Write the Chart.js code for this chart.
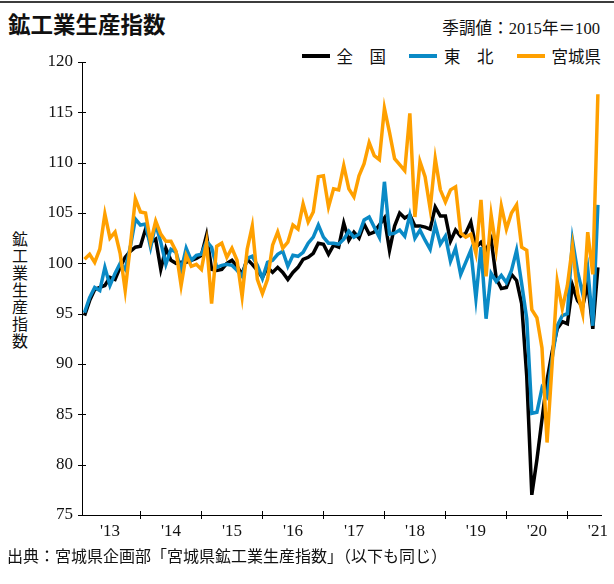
<!DOCTYPE html>
<html lang="ja">
<head>
<meta charset="utf-8">
<script src="https://cdn.jsdelivr.net/npm/chart.js@4.4.1/dist/chart.umd.min.js"></script>
<style>
html,body{margin:0;padding:0;background:#fff;}
#wrap{position:relative;width:614px;height:584px;overflow:hidden;background:#fff;}
#topline{position:absolute;left:0;top:1px;width:614px;height:2px;background:#3c3c3c;}
#title{position:absolute;left:8px;top:8px;font-family:'Noto Sans CJK JP';font-weight:bold;font-size:22.5px;line-height:30px;color:#111;white-space:nowrap;}
#sub{position:absolute;right:14px;top:17px;font-family:'Liberation Serif','Noto Sans CJK JP';font-size:16.6px;line-height:24px;color:#111;white-space:nowrap;}
#legend{position:absolute;right:13px;top:44px;height:24px;display:flex;align-items:center;font-family:'Noto Sans CJK JP';font-size:16.5px;color:#111;white-space:nowrap;}
#legend .item{display:flex;align-items:center;margin-left:23px;}
#legend .sw{display:inline-block;width:28px;height:4px;margin-right:7px;}
#ytitle{position:absolute;left:8px;top:231px;writing-mode:vertical-rl;font-family:'Noto Sans CJK JP';font-size:16px;letter-spacing:1px;color:#111;}
#source{position:absolute;left:7px;top:543px;font-family:'Noto Sans CJK JP';font-size:16px;line-height:24px;color:#111;white-space:nowrap;}
canvas{position:absolute;left:0;top:0;}
</style>
</head>
<body>
<div id="wrap">
  <div id="topline"></div>
  <div id="title">鉱工業生産指数</div>
  <div id="sub">季調値：2015年＝100</div>
  <div id="legend"></div>
  <div id="ytitle">鉱工業生産指数</div>
  <canvas id="c" width="614" height="584"></canvas>
  <div id="source">出典：宮城県企画部「宮城県鉱工業生産指数」（以下も同じ）</div>
</div>
<script>
// Monthly, Jan 2013 - Jun 2021 (seasonally adjusted, 2015 = 100)
const seriesNames = ['全　国', '東　北', '宮城県'];
const yearLabels = ["'13", "'14", "'15", "'16", "'17", "'18", "'19", "'20", "'21"];
const yTicks = [75, 80, 85, 90, 95, 100, 105, 110, 115, 120];

const national = [
  94.8, 96.3, 97.4, 97.6, 97.8, 98.6, 98.4, 99.6, 100.6, 101.2, 101.6, 101.7,
  103.4, 102.1, 102.4, 99.4, 101.5, 100.3, 100.0, 100.1, 100.1, 100.3, 100.5, 100.8,
  102.8, 99.4, 99.3, 99.4, 100.0, 100.3, 99.7, 98.9, 100.4, 99.9, 99.3, 98.6,
  99.6, 99.1, 99.6, 99.1, 98.4, 99.1, 99.6, 100.4, 100.6, 101.0, 102.0, 101.9,
  100.9, 101.8, 101.6, 104.0, 102.3, 103.1, 102.5, 103.9, 102.9, 103.1, 103.8, 104.5,
  101.3, 103.7, 105.0, 104.5, 104.8, 103.7, 103.7, 103.6, 103.4, 105.6, 104.7, 104.7,
  102.2, 103.3, 102.7, 103.0, 104.1, 101.6, 102.1, 101.3, 102.4, 98.5, 97.5, 97.6,
  98.9, 98.3, 96.0, 88.8, 77.0, 80.5, 84.5, 88.4, 91.2, 93.5, 94.2, 94.0,
  97.8, 96.3, 95.7, 98.0, 93.5, 99.6
];
const tohoku = [
  95.1, 96.6, 97.6, 97.3, 99.6, 97.8, 99.0, 100.0, 99.4, 101.6, 104.4, 103.8,
  103.9, 101.6, 103.9, 102.1, 99.9, 101.4, 101.1, 99.3, 101.5, 100.3, 100.8, 100.9,
  102.2, 101.6, 99.6, 99.8, 99.9, 99.8, 99.3, 98.7, 100.5, 100.7, 99.8, 98.5,
  100.1, 100.3, 100.9, 101.2, 99.7, 100.8, 100.7, 101.1, 102.0, 102.6, 103.8, 102.6,
  102.0, 102.0, 101.9, 102.4, 103.2, 102.6, 102.9, 104.3, 104.6, 103.6, 102.6, 108.1,
  102.9, 103.0, 103.3, 102.7, 104.8, 102.5, 103.3, 102.3, 101.4, 103.8, 101.9, 102.7,
  100.2, 101.5, 98.9, 100.1, 101.3, 96.5, 101.6, 94.5, 99.0, 98.2, 98.8, 98.1,
  99.3, 101.3, 98.0, 94.5, 85.1, 85.2, 87.6, 86.8, 90.6, 93.8, 94.8, 95.0,
  102.3, 99.2, 97.0, 99.5, 93.8, 105.8
];
const miyagi = [
  100.4, 100.9, 100.1, 101.4, 104.9, 102.5, 103.1, 101.0, 97.3, 101.7, 106.4, 105.1,
  105.0, 102.1, 104.2, 102.9, 102.2, 102.2, 101.2, 97.8, 100.8, 99.7, 99.9, 99.4,
  102.1, 96.0, 101.7, 102.0, 100.6, 101.5, 100.3, 96.7, 101.4, 103.7, 98.4, 97.0,
  98.4, 101.8, 103.1, 101.5, 102.1, 103.8, 103.4, 105.9, 104.1, 105.1, 108.6, 108.7,
  105.6, 107.4, 107.3, 109.7, 107.4, 106.6, 108.7, 109.9, 112.0, 110.7, 110.3, 115.4,
  113.0, 110.4, 109.8, 109.2, 114.9, 104.6, 110.1, 108.6, 105.4, 110.4, 107.3, 106.1,
  107.3, 107.6, 103.0, 102.6, 102.9, 101.0, 106.3, 98.7, 104.8, 101.4, 105.7, 103.4,
  105.0, 105.8, 101.6, 101.3, 95.4, 94.6, 91.6, 82.2, 90.0, 98.2, 95.5, 97.8,
  101.7, 97.0, 95.0, 103.1, 98.9, 116.8
];

const colors = ['#000000', '#0a8ac6', '#ffa000'];

// month categories (index 0 = Jan 2013)
const months = national.map((_, i) => (2013 + Math.floor(i / 12)) + '-' + String(i % 12 + 1).padStart(2, '0'));
const toXY = arr => arr.map((v, i) => ({ x: i, y: v }));
const labelPos = yearLabels.map((_, i) => i * 12 + 5);
const boundaryPos = yearLabels.slice(1).map((_, i) => i * 12 + 11);

// HTML legend
const lg = document.getElementById('legend');
seriesNames.forEach((n, i) => {
  const it = document.createElement('span'); it.className = 'item';
  const sw = document.createElement('span'); sw.className = 'sw'; sw.style.background = colors[i];
  const tx = document.createElement('span'); tx.textContent = n;
  it.appendChild(sw); it.appendChild(tx); lg.appendChild(it);
});

const crossTicks = {
  id: 'crossTicks',
  beforeDatasetsDraw(chart) {
    const { ctx, scales: { x, y } } = chart;
    ctx.save();
    ctx.strokeStyle = '#000';
    ctx.lineWidth = 1;
    ctx.beginPath();
    boundaryPos.forEach(v => {
      const px = Math.round(x.getPixelForValue(v)) + 0.5;
      ctx.moveTo(px, y.bottom - 4); ctx.lineTo(px, y.bottom + 4);
    });
    yTicks.forEach(v => {
      const py = Math.round(y.getPixelForValue(v)) + 0.5;
      ctx.moveTo(x.left - 4, py); ctx.lineTo(x.left + 4, py);
    });
    ctx.stroke();
    ctx.restore();
  }
};

const mk = (arr, i) => ({
  label: seriesNames[i], data: toXY(arr), borderColor: colors[i], backgroundColor: colors[i],
  borderWidth: 3.5, pointRadius: 0, tension: 0, fill: false, order: 3 - i
});

new Chart(document.getElementById('c'), {
  type: 'line',
  data: { labels: months, datasets: [mk(national, 0), mk(tohoku, 1), mk(miyagi, 2)] },
  options: {
    responsive: false, animation: false, devicePixelRatio: 1,
    layout: { padding: { left: 20, right: 10, top: 62, bottom: 29 } },
    plugins: { legend: { display: false }, tooltip: { enabled: false }, title: { display: false } },
    scales: {
      x: {
        type: 'linear', min: -0.5, max: 101.8,
        afterBuildTicks: s => { s.ticks = labelPos.map(v => ({ value: v })); },
        afterFit: s => { s.height = 40; },
        ticks: {
          autoSkip: false, maxRotation: 0, padding: 6, color: '#111',
          font: { family: 'Liberation Serif', size: 17 },
          callback: v => yearLabels[Math.round((v - 5) / 12)]
        },
        grid: { display: true, drawOnChartArea: false, drawTicks: false },
        border: { display: true, color: '#000', width: 1 }
      },
      y: {
        min: 75, max: 120,
        afterBuildTicks: s => { s.ticks = yTicks.map(v => ({ value: v })); },
        afterFit: s => { s.width = 62; },
        ticks: { padding: 9, color: '#111', font: { family: 'Liberation Serif', size: 17 } },
        grid: { display: true, drawOnChartArea: false, drawTicks: false },
        border: { display: true, color: '#000', width: 1 }
      }
    }
  },
  plugins: [crossTicks]
});
</script>
</body>
</html>
